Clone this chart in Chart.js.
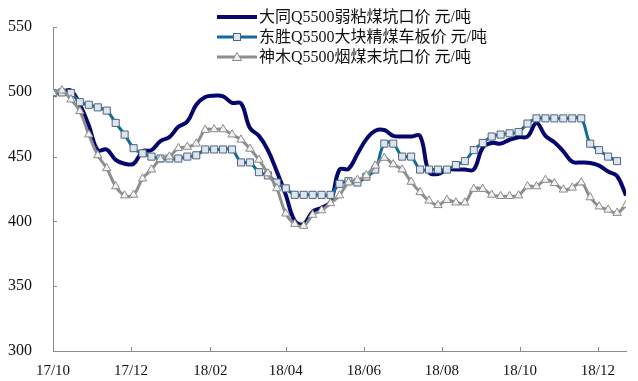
<!DOCTYPE html>
<html lang="zh">
<head>
<meta charset="UTF-8">
<title>动力煤坑口价</title>
<script src="https://cdn.jsdelivr.net/npm/chart.js"></script>
<style>
  html, body { margin: 0; padding: 0; background: #fff; }
  #chart { display: block; }
</style>
</head>
<body>
<canvas id="chart" width="638" height="381"></canvas>
<script>
// weekly dates (Fridays)
const dates = [
  '2017-10-06', '2017-10-13', '2017-10-20', '2017-10-27', '2017-11-03', '2017-11-10', '2017-11-17', '2017-11-24',
  '2017-12-01', '2017-12-08', '2017-12-15', '2017-12-22', '2017-12-29', '2018-01-05', '2018-01-12', '2018-01-19',
  '2018-01-26', '2018-02-02', '2018-02-09', '2018-02-16', '2018-02-23', '2018-03-02', '2018-03-09', '2018-03-16',
  '2018-03-23', '2018-03-30', '2018-04-06', '2018-04-13', '2018-04-20', '2018-04-27', '2018-05-04', '2018-05-11',
  '2018-05-18', '2018-05-25', '2018-06-01', '2018-06-08', '2018-06-15', '2018-06-22', '2018-06-29', '2018-07-06',
  '2018-07-13', '2018-07-20', '2018-07-27', '2018-08-03', '2018-08-10', '2018-08-17', '2018-08-24', '2018-08-31',
  '2018-09-07', '2018-09-14', '2018-09-21', '2018-09-28', '2018-10-05', '2018-10-12', '2018-10-19', '2018-10-26',
  '2018-11-02', '2018-11-09', '2018-11-16', '2018-11-23', '2018-11-30', '2018-12-07', '2018-12-14', '2018-12-21',
  '2018-12-28'
];

// 大同Q5500弱粘煤坑口价
const datong = [
  499, 500, 501, 490, 474, 455, 455.5, 447.5, 444.5, 444.5,
  454, 455, 462, 465, 473, 477, 490, 496, 497, 496.5,
  491.5, 491, 472, 466, 455, 438.5, 420.5, 400.5, 398, 407.5,
  410.5, 415, 440, 440.5, 452, 463.5, 470, 470.5, 466, 465.5,
  465.5, 466, 438, 436.5, 440, 440, 440, 440, 457, 460.5,
  460, 463, 465, 465.5, 476, 466, 461, 454, 446, 445.5,
  445, 443, 438.5, 435, 420
];

// 东胜Q5500大块精煤车板价
const dongsheng = [
  499, 499.5, 499, 492, 490, 488, 485.5, 476, 467, 456.5,
  452.5, 450, 448.5, 448.5, 448.5, 450, 451, 455.5, 455.5, 455.5,
  455.5, 445.5, 445.5, 438, 435.5, 430, 425.5, 420.5, 420.5, 420.5,
  420.5, 420.5, 429, 431, 430, 434.5, 440, 460, 460, 450,
  450, 440, 440, 440, 440, 443.5, 446.5, 455, 460.5, 465.5,
  467, 468, 469, 475.5, 479.5, 479.5, 479.5, 479.5, 479.5, 479.5,
  460, 455, 450, 446.5, null
];

// 神木Q5500烟煤末坑口价
const shenmu = [
  499, 501, 494, 485, 467, 451, 441, 427, 420, 420.5,
  433, 440, 448, 450, 456.5, 457.5, 460, 470.5, 471, 471,
  467, 463, 456, 447.5, 437, 425.5, 406, 398, 396.5, 405,
  408.5, 414, 420, 430, 432, 435.5, 443, 449, 444, 440,
  430.5, 422.5, 416, 412.5, 416.5, 414.5, 414.5, 425, 425, 420.5,
  419.5, 419.5, 420, 427, 427, 432, 429.5, 424.5, 426, 430,
  418.5, 411.5, 409, 406.5, 412.5
];

const seriesNames = [
  '大同Q5500弱粘煤坑口价 元/吨',
  '东胜Q5500大块精煤车板价 元/吨',
  '神木Q5500烟煤末坑口价 元/吨'
];

const tickDates = ['2017-10-06', '2017-12-06', '2018-02-06', '2018-04-06', '2018-06-06', '2018-08-06', '2018-10-06', '2018-12-06'];
const tickLabels = ['17/10', '17/12', '18/02', '18/04', '18/06', '18/08', '18/10', '18/12'];
const yTicks = [300, 350, 400, 450, 500, 550];

const DAY = 86400000;
const t0 = Date.parse(dates[0]);
const dayOf = d => Math.round((Date.parse(d) - t0) / DAY);
const xs = dates.map(dayOf);
const tickDays = tickDates.map(dayOf);
const toPoints = vals => vals.map((v, i) => ({ x: xs[i], y: v }));

const serif = '"Liberation Serif", "Times New Roman", "Noto Sans CJK SC", serif';
const axisColor = '#8a8a8a';

// ticks point into the plot
const innerTicks = {
  id: 'innerTicks',
  beforeDatasetsDraw(chart) {
    const { ctx, chartArea, scales: { x, y } } = chart;
    ctx.save();
    ctx.strokeStyle = axisColor;
    ctx.lineWidth = 1;
    ctx.beginPath();
    tickDays.forEach(d => {
      const px = Math.round(x.getPixelForValue(d)) + 0.5;
      ctx.moveTo(px, chartArea.bottom);
      ctx.lineTo(px, chartArea.bottom - 4);
    });
    yTicks.forEach(v => {
      const py = Math.round(y.getPixelForValue(v)) + 0.5;
      ctx.moveTo(chartArea.left, py);
      ctx.lineTo(chartArea.left + 4, py);
    });
    ctx.stroke();
    ctx.restore();
  }
};

// legend with line + marker samples
const lineLegend = {
  id: 'lineLegend',
  afterDraw(chart) {
    const ctx = chart.ctx;
    const x0 = 217, x1 = 257;
    ctx.save();
    chart.data.datasets.forEach((ds, i) => {
      const y = 17 + i * 20;
      ctx.strokeStyle = ds.borderColor;
      ctx.lineWidth = ds.borderWidth;
      ctx.beginPath();
      ctx.moveTo(x0, y);
      ctx.lineTo(x1, y);
      ctx.stroke();
      const cx = (x0 + x1) / 2;
      ctx.lineWidth = 1;
      if (ds.pointStyle === 'rect') {
        ctx.fillStyle = ds.pointBackgroundColor;
        ctx.strokeStyle = ds.pointBorderColor;
        ctx.fillRect(cx - 3.5, y - 3.5, 7, 7);
        ctx.strokeRect(cx - 3.5, y - 3.5, 7, 7);
      } else if (ds.pointStyle === 'triangle') {
        ctx.fillStyle = ds.pointBackgroundColor;
        ctx.strokeStyle = ds.pointBorderColor;
        ctx.beginPath();
        ctx.moveTo(cx, y - 4.5);
        ctx.lineTo(cx + 4.5, y + 3.5);
        ctx.lineTo(cx - 4.5, y + 3.5);
        ctx.closePath();
        ctx.fill();
        ctx.stroke();
      }
      ctx.fillStyle = '#111';
      ctx.font = '16px ' + serif;
      ctx.textBaseline = 'middle';
      ctx.textAlign = 'left';
      ctx.fillText(ds.label, 259, y + 1);
    });
    ctx.restore();
  }
};

new Chart(document.getElementById('chart'), {
  type: 'line',
  data: {
    datasets: [
      {
        label: seriesNames[0],
        data: toPoints(datong),
        borderColor: '#06066e',
        borderWidth: 4,
        pointRadius: 0,
        tension: 0.4,
        order: 3
      },
      {
        label: seriesNames[1],
        data: toPoints(dongsheng),
        borderColor: '#0d6c9a',
        borderWidth: 3,
        pointStyle: 'rect',
        pointRadius: 5,
        pointBorderWidth: 1,
        pointBackgroundColor: '#dde6ef',
        pointBorderColor: '#50647c',
        tension: 0.4,
        order: 2
      },
      {
        label: seriesNames[2],
        data: toPoints(shenmu),
        borderColor: '#8e8e8e',
        borderWidth: 3,
        pointStyle: 'triangle',
        pointRadius: 4.8,
        pointBorderWidth: 1,
        pointBackgroundColor: '#f2f2f2',
        pointBorderColor: '#8a8a8a',
        tension: 0.4,
        order: 1
      }
    ]
  },
  options: {
    responsive: false,
    animation: false,
    layout: { padding: { top: 27, right: 12, left: 0, bottom: 0 } },
    plugins: {
      legend: { display: false },
      tooltip: { enabled: false }
    },
    scales: {
      x: {
        type: 'linear',
        min: 0,
        max: xs[xs.length - 1],
        afterBuildTicks: s => { s.ticks = tickDays.map(v => ({ value: v })); },
        afterFit: s => { s.height = 30; },
        grid: { display: false },
        border: { color: axisColor, width: 1 },
        ticks: {
          autoSkip: false,
          maxRotation: 0,
          padding: 3,
          color: '#111',
          font: { family: serif, size: 15 },
          callback: v => tickLabels[tickDays.indexOf(v)]
        }
      },
      y: {
        min: 300,
        max: 550,
        afterBuildTicks: s => { s.ticks = yTicks.map(v => ({ value: v })); },
        afterFit: s => { s.width = 53; },
        grid: { display: false },
        border: { color: axisColor, width: 1 },
        ticks: {
          padding: 13,
          color: '#111',
          font: { family: serif, size: 16 }
        }
      }
    }
  },
  plugins: [innerTicks, lineLegend]
});
</script>
</body>
</html>
